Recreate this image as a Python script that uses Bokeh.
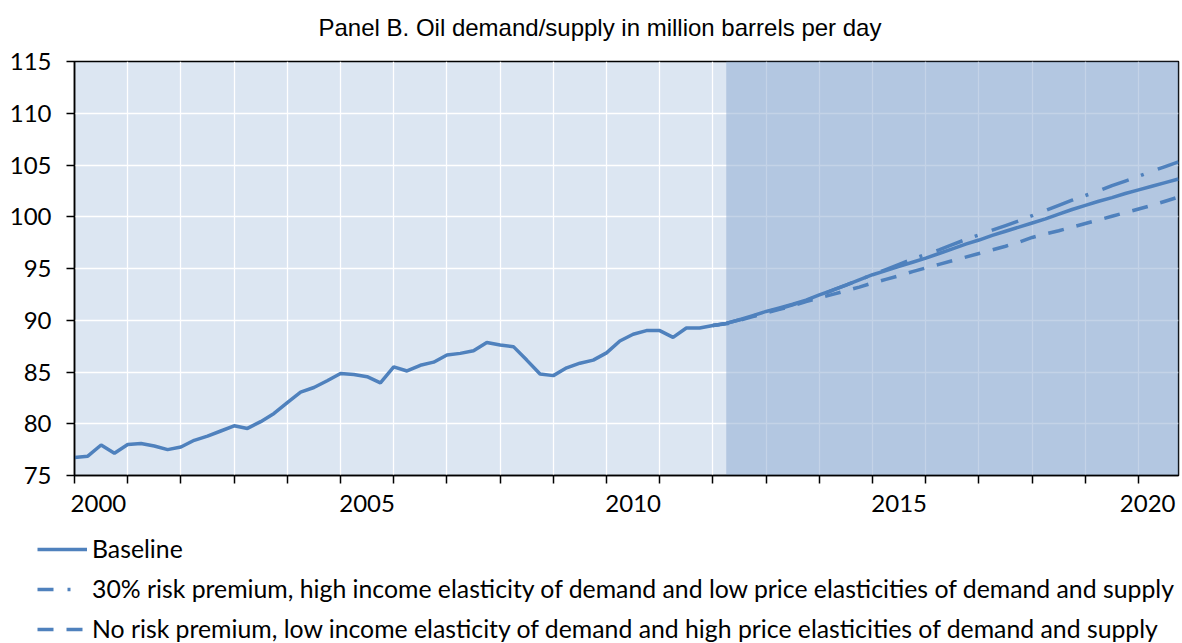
from bokeh.plotting import figure
from bokeh.models import (FixedTicker, BoxAnnotation, Legend, LegendItem,
                          CustomJSTickFormatter, Range1d, Title)
from bokeh.embed import file_html
from bokeh.resources import INLINE

# ---------------- data ----------------
title_text = "Panel B. Oil demand/supply in million barrels per day"
quarters = [f"{y}Q{q}" for y in range(2000, 2021) for q in range(1, 5)]

baseline = [
    76.75, 76.87, 77.95, 77.15,   # 2000
    78.00, 78.10, 77.85, 77.50,   # 2001
    77.75, 78.40, 78.80, 79.30,   # 2002
    79.80, 79.55, 80.20, 81.00,   # 2003
    82.05, 83.05, 83.50, 84.15,   # 2004
    84.85, 84.75, 84.55, 83.95,   # 2005
    85.50, 85.10, 85.65, 85.95,   # 2006
    86.65, 86.80, 87.05, 87.85,   # 2007
    87.60, 87.45, 86.15, 84.80,   # 2008
    84.65, 85.40, 85.85, 86.15,   # 2009
    86.85, 88.00, 88.65, 89.00,   # 2010
    89.00, 88.35, 89.25, 89.25,   # 2011
    89.50, 89.70, 90.05, 90.45,   # 2012
    90.85, 91.20, 91.55, 91.95,   # 2013
    92.45, 92.90, 93.40, 93.90,   # 2014
    94.40, 94.80, 95.20, 95.60,   # 2015
    96.00, 96.45, 96.90, 97.35,   # 2016
    97.75, 98.20, 98.60, 99.00,   # 2017
    99.40, 99.80, 100.25, 100.70, # 2018
    101.10, 101.50, 101.85, 102.25,  # 2019
    102.60, 102.95, 103.30, 103.65,  # 2020
]

proj_start = "2012Q1"
high_scenario = [
    89.50, 89.70, 90.05, 90.40,   # 2012
    90.80, 91.10, 91.50, 91.90,   # 2013
    92.40, 92.90, 93.40, 93.90,   # 2014
    94.40, 94.90, 95.40, 95.90,   # 2015
    96.35, 96.80, 97.30, 97.80,   # 2016
    98.25, 98.70, 99.15, 99.60,   # 2017
    100.10, 100.60, 101.10, 101.60,  # 2018
    102.05, 102.50, 103.00, 103.45,  # 2019
    103.90, 104.40, 104.85, 105.30,  # 2020
]
low_scenario = [
    89.50, 89.65, 90.00, 90.35,   # 2012
    90.70, 91.05, 91.40, 91.80,   # 2013
    92.15, 92.50, 92.85, 93.20,   # 2014
    93.60, 93.95, 94.30, 94.70,   # 2015
    95.05, 95.40, 95.75, 96.10,   # 2016
    96.45, 96.80, 97.15, 97.55,   # 2017
    98.00, 98.35, 98.65, 99.00,   # 2018
    99.35, 99.70, 100.05, 100.40,  # 2019
    100.75, 101.10, 101.50, 101.90,  # 2020
]

series_labels = [
    "Baseline",
    "30% risk premium, high income elasticity of demand and low price elasticities of demand and supply",
    "No risk premium, low income elasticity of demand and high price elasticities of demand and supply",
]
forecast_shade_start = "2012Q2"
y_ticks = [75, 80, 85, 90, 95, 100, 105, 110, 115]
x_label_years = [2000, 2005, 2010, 2015, 2020]


def qnum(s):
    y, q = s.split("Q")
    return int(y) + (int(q) - 1) / 4.0


x_all = [qnum(s) for s in quarters]
i0 = quarters.index(proj_start)
x_proj = x_all[i0:]

# ---------------- styling ----------------
LINE = "#4F81BD"
BG = "#DCE6F2"
TICK_FONT = "Lato"
LW = 3.5
DASH_HIGH = "28 13 3 15"
DASH_LOW = "16 13"
DASH_HIGH_KEY = "16 14 3 20"

p = figure(width=1180, height=520, output_backend="svg", toolbar_location=None,
           x_range=Range1d(x_all[0], x_all[-1]), y_range=Range1d(75, 115),
           min_border_left=74, min_border_right=2, min_border_top=61,
           min_border_bottom=45, background_fill_color=BG,
           border_fill_color="white", outline_line_color="black",
           outline_line_width=1.5)

# small empty spacer panel between the frame and the title
p.add_layout(Title(text=" ", text_font_size="8px", standoff=0), "above")

p.title.text = title_text
p.title.align = "left"
p.title.offset = 244
p.title.text_font = "Liberation Sans"
p.title.text_font_size = "24px"
p.title.text_font_style = "normal"
p.title.text_color = "black"
p.title.standoff = 20

# shaded projection area (semi-transparent, over the grid)
shade = BoxAnnotation(left=qnum(forecast_shade_start), fill_color="#8AA8D0",
                      fill_alpha=0.5, line_color=None, level="underlay")
p.add_layout(shade)

# x axis: year ticks as minor ticks, labels centred in the year
xa = p.xaxis[0]
label_pos = ([x_label_years[0] + 0.45] + [y + 0.5 for y in x_label_years[1:-1]]
             + [x_label_years[-1] + 0.17])
xa.ticker = FixedTicker(ticks=label_pos, minor_ticks=list(range(2000, 2021)))
xa.formatter = CustomJSTickFormatter(code="return Math.floor(tick).toString();")
xa.major_tick_line_color = None
xa.major_tick_out = 8
xa.major_tick_in = 0
xa.minor_tick_out = 8
xa.minor_tick_in = 0
xa.minor_tick_line_color = "black"
xa.minor_tick_line_width = 1.5
xa.axis_line_color = "black"
xa.axis_line_width = 1.5
xa.major_label_standoff = 11
xa.major_label_text_font = TICK_FONT
xa.major_label_text_font_size = "24px"
xa.major_label_text_color = "black"

ya = p.yaxis[0]
ya.ticker = FixedTicker(ticks=y_ticks)
ya.major_tick_out = 8
ya.major_tick_in = 0
ya.minor_tick_line_color = None
ya.major_tick_line_color = "black"
ya.major_tick_line_width = 1.5
ya.axis_line_color = "black"
ya.axis_line_width = 1.5
ya.major_label_standoff = 15
ya.major_label_text_font = TICK_FONT
ya.major_label_text_font_size = "24px"
ya.major_label_text_color = "black"

p.xgrid.ticker = FixedTicker(ticks=list(range(2001, 2021)))
p.ygrid.ticker = FixedTicker(ticks=y_ticks)
for g in (p.xgrid, p.ygrid):
    g.grid_line_color = "white"
    g.grid_line_width = 1.3

# lines
r_low = p.line(x_proj, low_scenario, line_color=LINE, line_width=LW, line_dash=DASH_LOW)
r_high = p.line(x_proj, high_scenario, line_color=LINE, line_width=LW, line_dash=DASH_HIGH)
r_base = p.line(x_all, baseline, line_color=LINE, line_width=LW)

# ---------------- legend (separate root below the chart) ----------------
pl = figure(width=1180, height=123, output_backend="svg", toolbar_location=None,
            x_range=Range1d(0, 1), y_range=Range1d(0, 1),
            x_axis_location=None, y_axis_location=None,
            min_border_left=37, min_border_right=0, min_border_top=14,
            min_border_bottom=0, outline_line_color=None,
            background_fill_color="white", border_fill_color="white")
pl.grid.visible = False
# legend-key renderers: their points lie outside the strip's visible range
off = [-5, -4]
l_base = pl.line(off, off, line_color=LINE, line_width=LW)
l_high = pl.line(off, off, line_color=LINE, line_width=LW, line_dash=DASH_HIGH_KEY)
l_low = pl.line(off, off, line_color=LINE, line_width=LW, line_dash=DASH_LOW)

legend = Legend(items=[LegendItem(label=series_labels[0], renderers=[l_base]),
                       LegendItem(label=series_labels[1], renderers=[l_high]),
                       LegendItem(label=series_labels[2], renderers=[l_low])],
                location="top_left", orientation="vertical",
                label_text_font=TICK_FONT, label_text_font_size="24.8px",
                label_text_color="black",
                glyph_width=50, glyph_height=20, label_height=20,
                spacing=11, padding=0, margin=0, label_standoff=5,
                border_line_alpha=0, background_fill_alpha=0)
pl.add_layout(legend, "center")

open("out.html", "w").write(file_html([p, pl], INLINE))
